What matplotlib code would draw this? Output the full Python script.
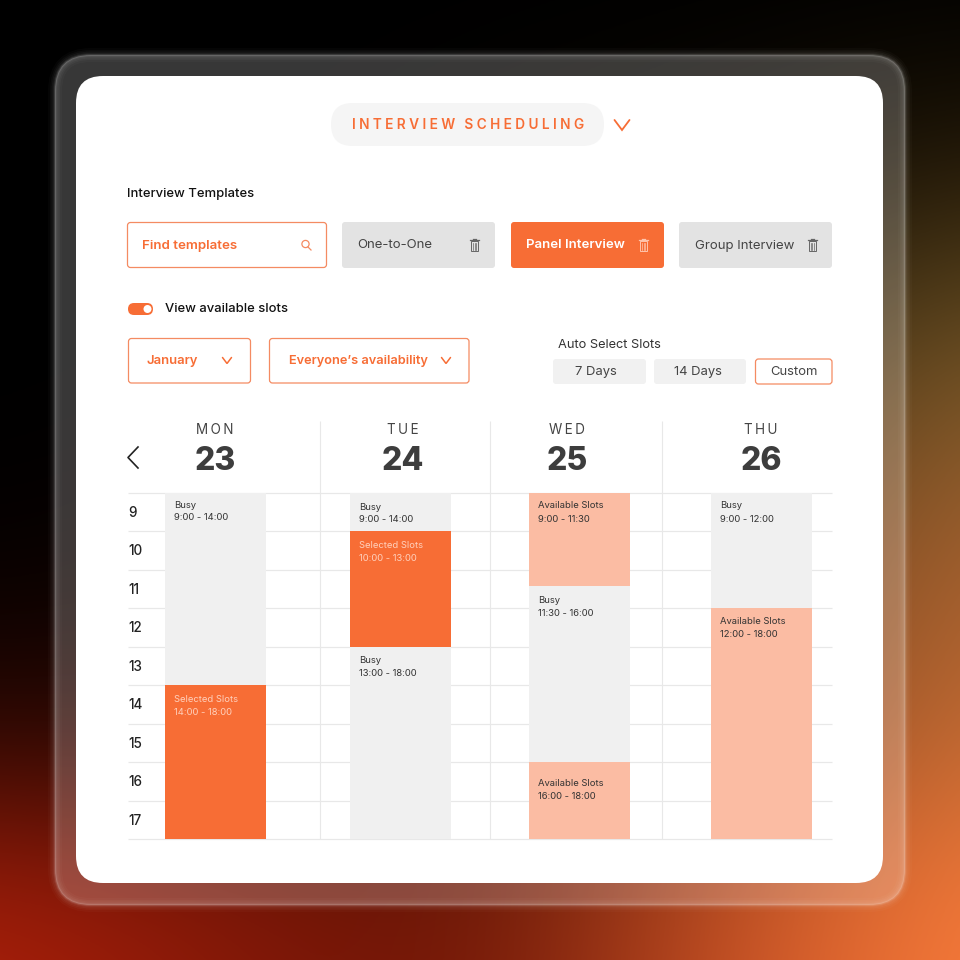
import matplotlib
matplotlib.use('Agg')
import matplotlib.pyplot as plt
from matplotlib.patches import FancyBboxPatch, Circle, Rectangle
import numpy as np

plt.rcParams['font.family'] = ['Inter', 'DejaVu Sans']

ORANGE = '#F76D35'
EDGE = '#F48B62'
PEACH = '#FBBCA3'
BUSY = '#F0F0F0'
DARK = '#3D3D3D'
GRID = '#E8E8E8'

# data
days = ['MON', 'TUE', 'WED', 'THU']
dates = ['23', '24', '25', '26']
hours = [9, 10, 11, 12, 13, 14, 15, 16, 17]

slot_day = [0, 0, 1, 1, 1, 2, 2, 2, 3, 3]
slot_start = [9, 14, 9, 10, 13, 9, 11.43, 16, 9, 12]
slot_end = [14, 18, 10, 13, 18, 11.43, 16, 18, 12, 18]
slot_kind = ['Busy', 'Selected Slots', 'Busy', 'Selected Slots', 'Busy',
             'Available Slots', 'Busy', 'Available Slots', 'Busy', 'Available Slots']
slot_time = ['9:00 - 14:00', '14:00 - 18:00', '9:00 - 14:00', '10:00 - 13:00', '13:00 - 18:00',
             '9:00 - 11:30', '11:30 - 16:00', '16:00 - 18:00', '9:00 - 12:00', '12:00 - 18:00']

templates = ['One-to-One', 'Panel Interview', 'Group Interview']
auto_labels = ['7 Days', '14 Days', 'Custom']

# layout in page pixels
day_centers = [215, 403, 567, 761]
bar_lefts = [165, 350, 529, 711]
separators = [319.5, 489.5, 661.5]
label_drop = [11, 13, 13, 13, 13, 12, 13, 20, 12, 12]

kind_color = {'Busy': BUSY, 'Selected Slots': ORANGE, 'Available Slots': PEACH}
kind_text = {'Busy': '#333333', 'Selected Slots': '#FFD0BC', 'Available Slots': '#333333'}

# background colours at the anchor points of the page
bg_colors = np.array([
    [[0, 0, 0], [0, 0, 0], [0, 0, 0], [0, 0, 0], [0, 0, 0]],
    [[0, 0, 0], [0, 0, 0], [5, 3, 0], [15, 10, 3], [40, 28, 8]],
    [[0, 0, 0], [0, 0, 0], [20, 10, 3], [50, 35, 15], [118, 90, 40]],
    [[2, 0, 0], [10, 2, 0], [50, 20, 8], [100, 60, 25], [165, 98, 48]],
    [[35, 6, 2], [35, 7, 3], [60, 20, 8], [120, 62, 28], [195, 108, 52]],
    [[175, 32, 10], [135, 25, 8], [108, 20, 5], [200, 80, 36], [252, 126, 60]],
], dtype=float) / 255

fig = plt.figure(figsize=(9.6, 9.6), dpi=100)
ax = fig.add_axes([0, 0, 1, 1])
ax.axis('off')
ax.imshow(bg_colors, extent=(-120, 1080, 1000, -96), interpolation='bicubic', aspect='auto', zorder=0)
ax.set_xlim(0, 960)
ax.set_ylim(960, 0)


def rbox(x0, y0, x1, y1, r, fc, ec='none', lw=0, alpha=None, z=2):
    p = FancyBboxPatch((x0 + r, y0 + r), x1 - x0 - 2 * r, y1 - y0 - 2 * r,
                       boxstyle=f'round,pad={r},rounding_size={r}',
                       fc=fc, ec=ec, lw=lw, alpha=alpha, zorder=z)
    ax.add_patch(p)
    return p


def label(x, y, s, size, color=DARK, weight='normal', ha='left', z=5):
    ax.text(x, y + 1.5, s, fontsize=size * 0.72, color=color, fontweight=weight,
            ha=ha, va='center', zorder=z)


def chevron(cx, cy, w, h, color, lw=1.1):
    ax.plot([cx - w, cx, cx + w], [cy - h, cy + h, cy - h], color=color, lw=lw,
            solid_capstyle='round', solid_joinstyle='miter', zorder=5)


def trash(cx, cy, color):
    ax.add_patch(Rectangle((cx - 3.5, cy - 4), 7, 10, fc='none', ec=color, lw=0.7, zorder=5))
    ax.plot([cx - 4.5, cx + 4.5], [cy - 5, cy - 5], color=color, lw=0.9, zorder=5)
    ax.plot([cx - 1.5, cx + 1.5], [cy - 6.5, cy - 6.5], color=color, lw=0.9, zorder=5)
    for dx in (-1.5, 0, 1.5):
        ax.plot([cx + dx, cx + dx], [cy - 2, cy + 4.5], color=color, lw=0.5, zorder=5)


# glass frame around the card
for w, a in zip([14, 10, 7, 4], [0.025, 0.03, 0.04, 0.05]):
    rbox(55, 55, 905, 905, 36, 'none', ec='white', lw=w * 0.72, alpha=a, z=1)
rbox(55, 55, 905, 905, 36, (1, 1, 1, 0.22), ec=(1, 1, 1, 0.12), lw=1.5, z=1)

# card
rbox(76, 76, 883, 883, 27, 'white', z=2)

# title pill
rbox(331, 103, 604, 146, 21.5, '#F5F5F5', z=3)
label(468, 123.5, '\u2009\u200a'.join('INTERVIEW') + '\u2002\u2009' + '\u2009\u200a'.join('SCHEDULING'),
      13.7, color=ORANGE, weight='semibold', ha='center')
chevron(622, 125, 7.5, 5, ORANGE, lw=1.3)

label(127, 192, 'Interview Templates', 13, color='#111111', weight='medium')

# template row
rbox(127.5, 222.5, 326.5, 267.5, 3, 'white', ec=EDGE, lw=0.9, z=3)
label(142, 244, 'Find templates', 13.3, color=ORANGE, weight='semibold')
ax.add_patch(Circle((305.5, 244), 3.6, fc='none', ec=EDGE, lw=0.9, zorder=5))
ax.plot([308, 311], [247, 250], color=EDGE, lw=0.9, zorder=5)

tpl_left = [342, 511, 679]
tpl_text = [357, 526, 695]
tpl_icon = [474.5, 643.5, 812]
for i, name in enumerate(templates):
    active = name == 'Panel Interview'
    rbox(tpl_left[i], 222, tpl_left[i] + 153, 268, 3, ORANGE if active else '#E3E3E3', z=3)
    label(tpl_text[i], 244, name, 13.2, color='white' if active else '#444444',
          weight='semibold' if active else 'normal')
    trash(tpl_icon[i], 245, '#FFC4AC' if active else '#666666')

# toggle
rbox(128, 303, 153, 315, 6, ORANGE, z=3)
ax.add_patch(Circle((147.5, 309), 4, fc='white', ec='none', zorder=5))
label(165, 308, 'View available slots', 13, color='#111111', weight='medium')

# dropdowns
rbox(128.5, 338.5, 250.5, 383, 3, 'white', ec=EDGE, lw=0.9, z=3)
label(146.5, 359.5, 'January', 13, color=ORANGE, weight='semibold')
chevron(227, 360.5, 4.5, 3, ORANGE)
rbox(269.5, 338.5, 469, 383, 3, 'white', ec=EDGE, lw=0.9, z=3)
label(289, 359.5, 'Everyone\u2019s availability', 12.8, color=ORANGE, weight='semibold')
chevron(446, 360.5, 4.5, 3, ORANGE)

# auto select
label(558, 344, 'Auto Select Slots', 12.8, color='#333333')
rbox(553, 359, 646, 384, 3, '#F1F1F1', z=3)
rbox(654, 359, 746, 384, 3, '#F1F1F1', z=3)
rbox(755.5, 359, 832, 384, 3, 'white', ec=EDGE, lw=0.9, z=3)
auto_centers = [596, 697.5, 793.5]
for c, s in zip(auto_centers, auto_labels):
    label(c, 370.5, s, 13, color='#444444', ha='center')

# calendar head
ax.plot([138, 128, 138], [447, 457.5, 468], color='#222222', lw=1.2, zorder=5)
for c, d, n in zip(day_centers, days, dates):
    label(c, 428.5, '\u2009'.join(d), 13.5, color='#444444', ha='center')
    label(c, 460.5, n, 32, color=DARK, weight='extra bold', ha='center')
ax.vlines(separators, 421, 839, color=GRID, lw=0.8, zorder=3)

# calendar body: x in page pixels, y in hours of the day
cal = fig.add_axes([128 / 960, 1 - 839 / 960, (832 - 128) / 960, (839 - 493) / 960], zorder=4)
cal.patch.set_alpha(0)
cal.set_xlim(128, 832)
cal.set_ylim(18, 9)
cal.axis('off')
cal.hlines(hours + [18], 128, 832, color=GRID, lw=0.9, zorder=1, clip_on=False)
for i in range(len(slot_day)):
    left = bar_lefts[slot_day[i]]
    kind = slot_kind[i]
    cal.bar(left, slot_end[i] - slot_start[i], width=101, bottom=slot_start[i], align='edge',
            color=kind_color[kind], zorder=2)
    for k, s in enumerate([kind, slot_time[i]]):
        cal.annotate(s, (left, slot_start[i]), xytext=(6.5, -(label_drop[i] + 1 + 13 * k) * 0.72),
                     textcoords='offset points', fontsize=6.8, color=kind_text[kind],
                     va='center', ha='left', zorder=3)
for h in hours:
    cal.text(128, h + 0.52, str(h), fontsize=9.7, color='#222222', fontweight='medium',
             ha='left', va='center', zorder=3)

fig.savefig('out.png', dpi=100)
